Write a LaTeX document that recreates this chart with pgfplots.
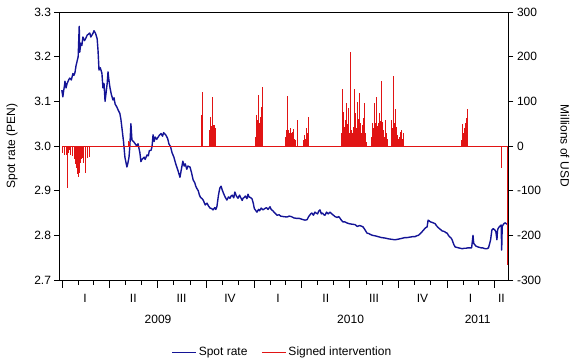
\documentclass[border=0pt]{standalone}
\usepackage{fontspec}
\setmainfont{Liberation Sans}
\usepackage{pgfplots}
\pgfplotsset{compat=1.18}
\definecolor{spotblue}{RGB}{20,20,150}
\definecolor{intred}{RGB}{225,20,20}
\begin{document}
\begin{tikzpicture}[font=\fontsize{12}{14}\selectfont]
\path[use as bounding box] (0,0) rectangle (576pt,364pt);
\begin{axis}[
  scale only axis, width=449pt, height=268pt,
  at={(59.5pt,84pt)}, anchor=south west,
  clip=false,
  xmin=-4.4, xmax=846.9,
  ymin=2.7, ymax=3.3,
  ytick={2.7,2.8,2.9,3.0,3.1,3.2,3.3},
  yticklabel style={/pgf/number format/fixed,/pgf/number format/precision=1,/pgf/number format/fixed zerofill},
  /pgf/number format/assume math mode=true,
  xtick={31,59,120,151,212,243,304,334,396,424,485,515,577,608,669,699,761,789},
  xticklabels={},
  extra x ticks={0,90,181,273,365,455,546,638,730,820},
  extra x tick labels={},
  extra x tick style={major tick length=8pt},
  tick align=outside, major tick length=5pt,
  xtick pos=bottom, ytick pos=left,
  tick style={black, line width=0.6pt},
  axis line style={black, line width=0.8pt},
  ticklabel style={font=\fontsize{12}{14}\selectfont},
  ylabel={Spot rate (PEN)},
  every axis y label/.style={at={(axis description cs:-0.1058,0.5)}, rotate=90, anchor=center, font=\fontsize{12}{14}\selectfont},
]
\addplot[spotblue, line width=1.4pt, line join=round] coordinates {
(0,3.125) (2,3.11) (3,3.12) (5,3.135) (6,3.145) (8,3.13) (10,3.14) (13,3.148) (15,3.152) (18,3.148) (21,3.162) (23,3.158) (25,3.165) (27,3.18) (29,3.19) (31,3.2) (33,3.268) (34,3.21) (36,3.23) (38,3.225) (40,3.244) (43,3.236) (45,3.24) (48,3.248) (50,3.25) (53,3.253) (55,3.244) (57,3.248) (59,3.252) (61,3.258) (64,3.252) (67,3.24) (68.6,3.215) (70.5,3.17) (73,3.175) (76,3.163) (78,3.13) (80,3.14) (82,3.10) (84,3.12) (86,3.14) (87.6,3.166) (89,3.15) (91.4,3.13) (94,3.115) (97,3.103) (99,3.108) (101,3.094) (104.5,3.087) (107,3.08) (110,3.073) (112,3.06) (114,3.04) (117,3.01) (119.6,2.975) (123.4,2.953) (125,2.96) (127.4,2.975) (129,3.0) (131,3.05) (133,3.013) (136,3.01) (139,3.005) (142,3.0) (144.5,3.005) (148,2.985) (150,2.965) (152,2.97) (156,2.975) (158,2.97) (161.5,2.98) (164,2.978) (166,2.99) (169,2.99) (171,2.998) (173,3.025) (175,3.01) (177,3.02) (180,3.015) (182.6,3.02) (185,3.024) (188,3.028) (191,3.022) (193,3.03) (197,3.025) (200.6,3.017) (203,3.005) (206.3,2.998) (209,2.985) (212.5,2.975) (216,2.96) (220,2.946) (224,2.93) (227,2.95) (229.5,2.966) (232,2.955) (234,2.96) (237,2.948) (239,2.955) (243,2.953) (246,2.94) (249,2.924) (252,2.918) (254,2.91) (256,2.905) (258.6,2.90) (261,2.89) (263,2.885) (266,2.882) (268,2.879) (272,2.868) (275.3,2.872) (278,2.866) (281,2.861) (284,2.86) (286.7,2.857) (290,2.862) (292,2.858) (294,2.864) (297,2.89) (299.6,2.906) (302,2.91) (304,2.902) (305.6,2.897) (308,2.89) (310,2.885) (313,2.879) (316,2.886) (318.8,2.883) (321,2.888) (323,2.89) (326,2.884) (328,2.897) (331,2.888) (334,2.883) (337,2.89) (339,2.885) (342,2.878) (343.6,2.883) (346,2.885) (348,2.888) (351,2.882) (353,2.892) (355,2.886) (357,2.885) (360.6,2.882) (363,2.872) (365,2.86) (368,2.855) (370,2.852) (373,2.858) (375,2.855) (378,2.861) (381.4,2.857) (385,2.86) (388,2.862) (391,2.858) (394.7,2.864) (397,2.858) (400,2.855) (404,2.85) (408,2.845) (412,2.846) (415,2.843) (420,2.842) (427,2.841) (431,2.843) (435,2.842) (440,2.839) (445,2.838) (450,2.838) (455,2.836) (461,2.834) (465,2.835) (468,2.842) (470,2.845) (472,2.848) (474,2.85) (477,2.845) (480,2.852) (482,2.85) (485,2.848) (487,2.854) (489.5,2.857) (492,2.848) (494,2.85) (497,2.846) (499,2.845) (502,2.852) (505,2.848) (508.5,2.852) (512,2.848) (515,2.845) (518,2.842) (522,2.84) (525,2.842) (527.6,2.838) (530,2.834) (533,2.83) (537,2.83) (540,2.828) (545,2.826) (550,2.825) (556,2.824) (560,2.82) (565,2.822) (571,2.819) (575,2.812) (578.6,2.805) (582,2.804) (585,2.802) (589,2.8) (593.5,2.799) (597,2.798) (600,2.797) (606,2.795) (612.5,2.794) (616,2.793) (620,2.792) (626,2.791) (631.7,2.79) (636,2.791) (640,2.792) (644,2.793) (647,2.794) (651,2.795) (655,2.795) (660,2.796) (665,2.797) (669.5,2.797) (673,2.799) (676,2.80) (680,2.804) (683,2.808) (686,2.812) (688,2.815) (690,2.817) (692.6,2.819) (694.5,2.834) (697,2.832) (699,2.83) (702,2.829) (704,2.828) (706,2.827) (708,2.826) (710,2.822) (711.6,2.82) (714,2.817) (716,2.815) (719,2.812) (721,2.81) (724,2.809) (726,2.808) (728,2.806) (730.5,2.805) (733,2.8) (735,2.797) (738,2.794) (740,2.79) (743,2.78) (745.7,2.774) (749,2.773) (752,2.772) (756,2.771) (759,2.77) (763,2.771) (766,2.771) (770,2.772) (774,2.772) (777,2.772) (779.6,2.80) (781,2.782) (785,2.776) (789,2.774) (792,2.773) (795,2.772) (798,2.772) (800,2.771) (803,2.77) (806,2.77) (809,2.772) (811.5,2.783) (813,2.79) (815.4,2.812) (818,2.815) (821,2.812) (823,2.808) (825,2.79) (826,2.81) (827,2.815) (830,2.82) (833,2.823) (834,2.767) (835,2.82) (838,2.826) (840.3,2.828) (843,2.826) (846,2.823)
};
\node[anchor=center] at (axis cs:44,2.7) [yshift=-18pt] {I};
\node[anchor=center] at (axis cs:135.5,2.7) [yshift=-18pt] {II};
\node[anchor=center] at (axis cs:227,2.7) [yshift=-18pt] {III};
\node[anchor=center] at (axis cs:319,2.7) [yshift=-18pt] {IV};
\node[anchor=center] at (axis cs:410,2.7) [yshift=-18pt] {I};
\node[anchor=center] at (axis cs:500.5,2.7) [yshift=-18pt] {II};
\node[anchor=center] at (axis cs:592,2.7) [yshift=-18pt] {III};
\node[anchor=center] at (axis cs:684,2.7) [yshift=-18pt] {IV};
\node[anchor=center] at (axis cs:775,2.7) [yshift=-18pt] {I};
\node[anchor=center] at (axis cs:833.5,2.7) [yshift=-18pt] {II};
\node[anchor=center] at (axis cs:182.5,2.7) [yshift=-39pt] {2009};
\node[anchor=center] at (axis cs:547.5,2.7) [yshift=-39pt] {2010};
\node[anchor=center] at (axis cs:788.5,2.7) [yshift=-39pt] {2011};
\end{axis}
\begin{axis}[
  scale only axis, width=449pt, height=268pt,
  at={(59.5pt,84pt)}, anchor=south west,
  xmin=-4.4, xmax=846.9,
  ymin=-300, ymax=300,
  ytick={-300,-200,-100,0,100,200,300},
  axis x line=none,
  axis y line*=right,
  /pgf/number format/assume math mode=true,
  tick align=outside, major tick length=5pt,
  tick style={black, line width=0.6pt},
  axis line style={black, line width=0.8pt},
  ticklabel style={font=\fontsize{12}{14}\selectfont},
  ylabel={Millions of USD},
  every axis y label/.style={at={(axis description cs:1.1258,0.5)}, rotate=-90, anchor=center, font=\fontsize{12}{14}\selectfont},
  legend columns=2,
  legend style={draw=none, fill=none, at={(0.4967,-0.2687)}, anchor=center, font=\fontsize{12}{14}\selectfont,
    /tikz/every even column/.append style={column sep=12pt}},
  legend cell align=left,
  legend image code/.code={\draw[#1] (0pt,0pt) -- (24pt,0pt);},
]
\addlegendimage{spotblue, line width=1pt}
\addlegendentry{Spot rate}
\addlegendimage{intred, line width=1pt}
\addlegendentry{Signed intervention}
\addplot[intred, line width=1pt, forget plot] coordinates {(0,0) (844,0)};
\addplot[intred, ycomb, line width=0.8pt, forget plot] coordinates {
(2,-16) (4,-12) (5.5,-20) (8.5,-20) (10.4,-94) (13,-16) (15,-10) (17,-20) (20,-22) (23,-27) (24,-30) (25.6,-36) (26.5,-40) (27.5,-47) (28.5,-50) (29.4,-58) (30.3,-62) (31.3,-69) (32.2,-64) (33.2,-60) (34,-45) (35,-38) (36.5,-30) (38.3,-27) (41.5,-38) (44.5,-60) (47.8,-27) (51.6,-25)
(126,12) (128,10)
(264,69) (266,122)
(279,29) (280,35) (281,66) (282,38) (283,45) (284,40) (285,110) (286,42) (287,43) (288,48) (289,47) (290,44) (291,40) (292,30)
(367,20) (368,69) (369,45) (370,58) (371,40) (372,114) (373,50) (374,45) (375,51) (376,55) (377,66) (378,60) (379,88) (380,70) (381,133)
(423,13) (424,20) (425,36) (426,25) (427,112) (428,30) (429,36) (431,20) (432,29) (434,40) (435,28) (437,32) (438,25) (439,38) (441,15) (442,13) (446,58) (458,13) (460,25) (462,15) (464,40) (466,30) (467,66)
(531,30) (532,127) (533,60) (534,77) (535,43) (536,40) (537,30) (538,58) (539,45) (540,97) (541,50) (542,36) (543,40) (544,84) (545,30) (546,29) (547,25) (548,210) (549,35) (550,29) (551,20) (552,30) (553,43) (554,30) (555,127) (556,60) (557,74) (558,40) (559,21) (560,45) (561,99) (562,60) (563,40) (564,118) (565,30) (566,51) (567,35) (568,29) (569,40) (570,47) (571,35) (572,63) (573,40) (574,96) (575,30) (576,21) (577,10)
(587,20) (588,51) (589,35) (590,40) (591,30) (592,96) (593,45) (594,35) (595,51) (596,40) (597,110) (598,45) (599,36) (600,51) (601,40) (602,45) (603,74) (604,55) (605,146) (606,40) (607,54) (608,30) (609,25) (610,36) (611,20) (612,15) (614,58) (615,25) (616,30) (617,15)
(624,20) (625,58) (626,40) (627,30) (628,157) (629,40) (630,51) (631,35) (632,82) (633,30) (634,20) (635,43) (636,25) (638,15) (640,20) (641,32) (643,20) (644,36) (645,15) (647,29)
(758,13) (760,49) (762,30) (763,41) (764,35) (766,52) (767,63) (769,82)
(834,-49) (844,-266)
};
\end{axis}
\end{tikzpicture}
\end{document}
